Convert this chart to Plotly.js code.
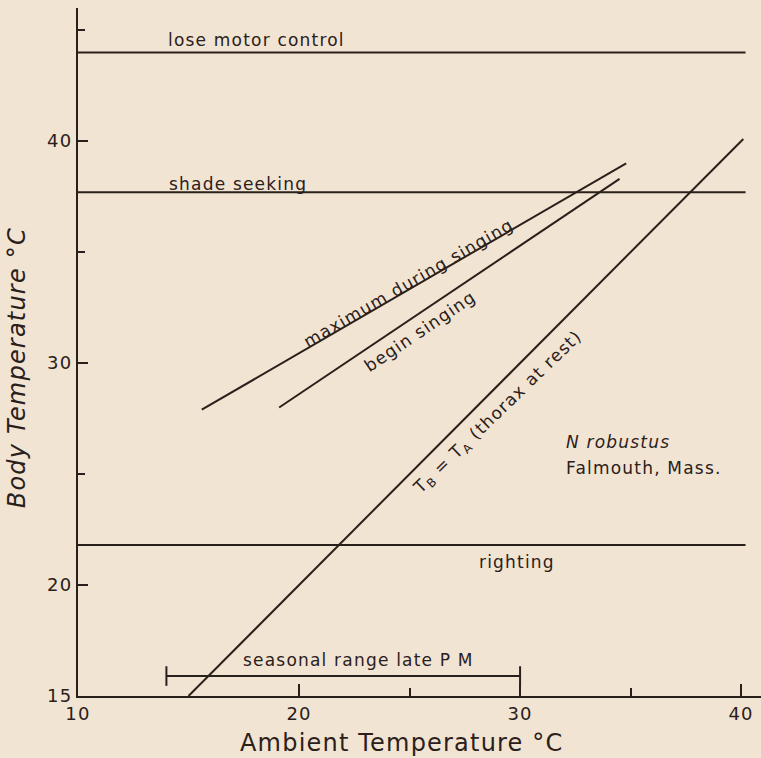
<!DOCTYPE html>
<html>
<head>
<meta charset="utf-8">
<script src="https://cdn.plot.ly/plotly-3.0.1.min.js"></script>
<style>
  html, body { margin: 0; padding: 0; background: #f2e4d2; }
  #chart { width: 761px; height: 758px; }
  text { letter-spacing: 1.2px; }
</style>
</head>
<body>
<div id="chart"></div>
<script>
// Threshold (horizontal) behaviours: body temperature in °C
const thresholdNames = ['lose motor control', 'shade seeking', 'righting'];
const thresholdTemps = [44.0, 37.7, 21.8];
const thresholdAmbient = [10, 40.2];

// Singing lines (ambient vs body temperature)
const maxSingingAmbient = [15.6, 34.8];
const maxSingingBody = [27.9, 39.0];
const beginSingingAmbient = [19.1, 34.5];
const beginSingingBody = [28.0, 38.3];

// T_B = T_A line (thorax at rest)
const restAmbient = [15, 40.1];
const restBody = [15, 40.1];

// Seasonal range late PM (ambient)
const seasonalAmbient = [14, 30];
const seasonalLevel = [15.9, 15.9];

// Axis ticks
const xTickVals = [10, 20, 30, 40];
const xMinorVals = [25, 35];
const yTickVals = [15, 20, 30, 40];
const yMinorVals = [25, 35, 45];

const xTitle = 'Ambient Temperature °C';
const yTitle = 'Body Temperature °C';

const INK = '#2a201b';
const BG = '#f2e4d2';
const FONT = 'DejaVu Sans, sans-serif';

const traces = [];
thresholdTemps.forEach((t, i) => {
  traces.push({
    x: thresholdAmbient, y: [t, t], mode: 'lines', name: thresholdNames[i],
    line: {color: INK, width: 2}, hoverinfo: 'skip'
  });
});
traces.push({x: maxSingingAmbient, y: maxSingingBody, mode: 'lines', name: 'maximum during singing', line: {color: INK, width: 2}});
traces.push({x: beginSingingAmbient, y: beginSingingBody, mode: 'lines', name: 'begin singing', line: {color: INK, width: 2}});
traces.push({x: restAmbient, y: restBody, mode: 'lines', name: 'TB = TA', line: {color: INK, width: 2}});
traces.push({
  x: seasonalAmbient, y: seasonalLevel, mode: 'lines+markers', name: 'seasonal range late PM',
  line: {color: INK, width: 2},
  marker: {symbol: 'line-ns', size: 14, line: {color: INK, width: 2}}
});

const lab = (text, x, y, opts) => Object.assign({
  text: text, x: x, y: y, xref: 'x', yref: 'y', showarrow: false,
  xanchor: 'left', yanchor: 'middle',
  font: {family: FONT, size: 17, color: INK}
}, opts || {});

const layout = {
  width: 761, height: 758,
  paper_bgcolor: BG, plot_bgcolor: BG,
  showlegend: false,
  margin: {l: 78, r: 0, t: 8, b: 62},
  font: {family: FONT, color: INK, size: 17},
  xaxis: {
    range: [10, 40.9], showgrid: false, zeroline: false,
    showline: true, linecolor: INK, linewidth: 2,
    tickmode: 'array', tickvals: xTickVals, ticktext: xTickVals.map(String),
    ticks: 'inside', ticklen: 12, tickwidth: 2, tickcolor: INK,
    ticklabelstandoff: 0,
    minor: {tickmode: 'array', tickvals: xMinorVals, ticks: 'inside', ticklen: 8, tickwidth: 2, tickcolor: INK},
    tickfont: {family: FONT, size: 18, color: INK}
  },
  yaxis: {
    range: [15, 46], showgrid: false, zeroline: false,
    showline: true, linecolor: INK, linewidth: 2,
    tickmode: 'array', tickvals: yTickVals, ticktext: yTickVals.map(String),
    ticks: 'inside', ticklen: 10, tickwidth: 2, tickcolor: INK,
    ticklabelstandoff: 0,
    minor: {tickmode: 'array', tickvals: yMinorVals, ticks: 'inside', ticklen: 7, tickwidth: 2, tickcolor: INK},
    tickfont: {family: FONT, size: 18, color: INK}
  },
  annotations: [
    lab(thresholdNames[0], 14.0, 44.55),
    lab(thresholdNames[1], 14.03, 38.06),
    lab(thresholdNames[2], 28.07, 21.05),
    lab('seasonal range late P M', 22.7, 16.6, {xanchor: 'center'}),
    lab('<i>N robustus</i>', 31.97, 26.44),
    lab('Falmouth, Mass.', 31.97, 25.27),
    lab('maximum during singing', 24.95, 33.6, {xanchor: 'center', textangle: -30}),
    lab('begin singing', 25.49, 31.44, {xanchor: 'center', textangle: -34}),
    lab('T<sub>B</sub> = T<sub>A</sub> (thorax at rest)', 28.98, 27.75, {xanchor: 'center', textangle: -44}),
    // axis titles
    {text: xTitle, x: 24.67, xref: 'x', y: -0.068, yref: 'paper', showarrow: false,
     xanchor: 'center', yanchor: 'middle', font: {family: FONT, size: 24, color: INK}},
    {text: '<i>' + yTitle + '</i>', x: -0.0893, xref: 'paper', y: 29.77, yref: 'y', showarrow: false,
     xanchor: 'center', yanchor: 'middle', textangle: -90, font: {family: FONT, size: 24, color: INK}}
  ]
};

Plotly.newPlot('chart', traces, layout, {staticPlot: true, displayModeBar: false});
</script>
</body>
</html>
